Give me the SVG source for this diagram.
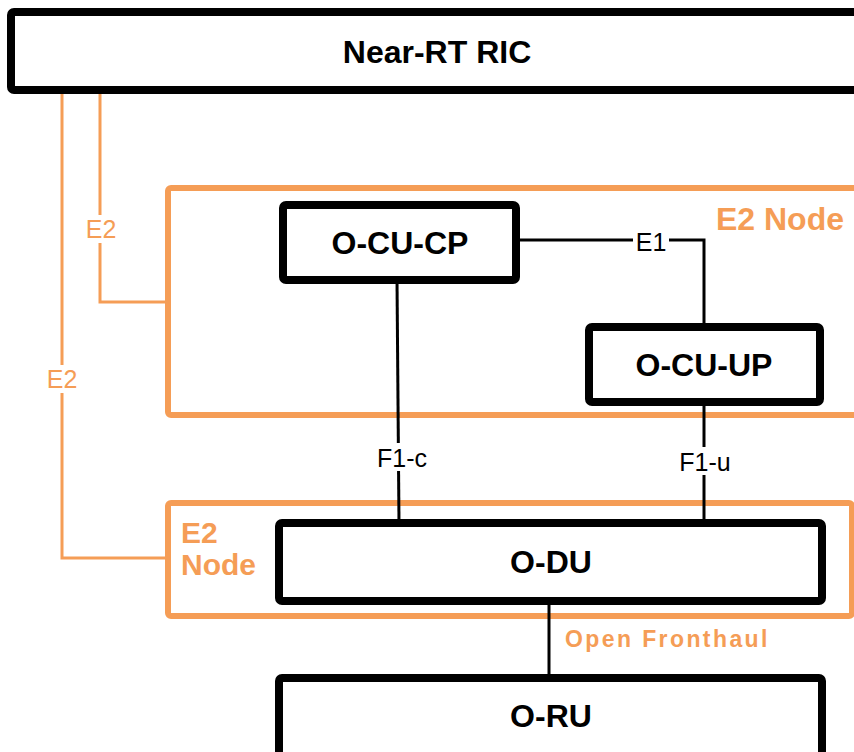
<svg xmlns="http://www.w3.org/2000/svg" width="854" height="752" viewBox="0 0 854 752">
<style>
.box{fill:#fff;stroke:#000;stroke-width:8}
.grp{fill:#fff;stroke:#F59D56;stroke-width:6}
.lbl{font-family:"Liberation Sans",Arial,sans-serif;font-weight:bold;font-size:32px;fill:#000;text-anchor:middle}
.olbl{font-family:"Liberation Sans",Arial,sans-serif;font-weight:bold;font-size:32px;fill:#F59D56}
.clbl{font-family:"Liberation Sans",Arial,sans-serif;font-size:25px;fill:#000;text-anchor:middle}
.e2lbl{font-family:"Liberation Sans",Arial,sans-serif;font-size:25px;fill:#F59D56;text-anchor:middle}
.ln{fill:none;stroke:#000;stroke-width:3}
.oln{fill:none;stroke:#F59D56;stroke-width:3}
.gap{fill:#fff}
</style>
<rect width="854" height="752" fill="#fff"/>
<g id="e2node-top">
<rect class="grp" x="168" y="188" width="700" height="227" rx="3"/>
<text class="olbl" x="844" y="230" text-anchor="end">E2 Node</text>
</g>
<g id="e2node-bottom">
<rect class="grp" x="168" y="503" width="684" height="113" rx="3"/>
<text class="olbl" x="181" y="543" style="font-size:30px">E2</text>
<text class="olbl" x="181" y="575" style="font-size:30px">Node</text>
</g>
<g id="connectors">
<polyline class="oln" points="100,90 100,302 168,302"/>
<polyline class="oln" points="62,90 62,558 168,558"/>
<polyline class="ln" points="516,240 704,240 704,326"/>
<line class="ln" x1="397" y1="280" x2="399" y2="522"/>
<line class="ln" x1="704" y1="402" x2="704" y2="522"/>
<line class="ln" x1="549" y1="602" x2="549" y2="674"/>
<rect class="gap" x="82" y="215" width="38" height="28"/>
<text class="e2lbl" x="101" y="238">E2</text>
<rect class="gap" x="43" y="365" width="38" height="28"/>
<text class="e2lbl" x="62" y="388">E2</text>
<rect class="gap" x="633" y="228" width="36" height="26"/>
<text class="clbl" x="651" y="251">E1</text>
<rect class="gap" x="372" y="443" width="60" height="28"/>
<text class="clbl" x="402" y="467">F1-c</text>
<rect class="gap" x="674" y="447" width="62" height="28"/>
<text class="clbl" x="705" y="471">F1-u</text>
<text class="olbl" x="565" y="647" style="font-size:23px;letter-spacing:2.4px">Open Fronthaul</text>
</g>
<g id="near-rt-ric">
<rect class="box" x="11" y="12" width="860" height="78" rx="3"/>
<text class="lbl" x="437" y="63">Near-RT RIC</text>
</g>
<g id="o-cu-cp">
<rect class="box" x="283" y="205" width="233" height="75" rx="3"/>
<text class="lbl" x="400" y="254">O-CU-CP</text>
</g>
<g id="o-cu-up">
<rect class="box" x="589" y="327" width="231" height="75" rx="3"/>
<text class="lbl" x="704" y="376">O-CU-UP</text>
</g>
<g id="o-du">
<rect class="box" x="279" y="523" width="543" height="78" rx="3"/>
<text class="lbl" x="551" y="573">O-DU</text>
</g>
<g id="o-ru">
<rect class="box" x="279" y="678" width="543" height="90" rx="3"/>
<text class="lbl" x="551" y="727">O-RU</text>
</g>
</svg>
